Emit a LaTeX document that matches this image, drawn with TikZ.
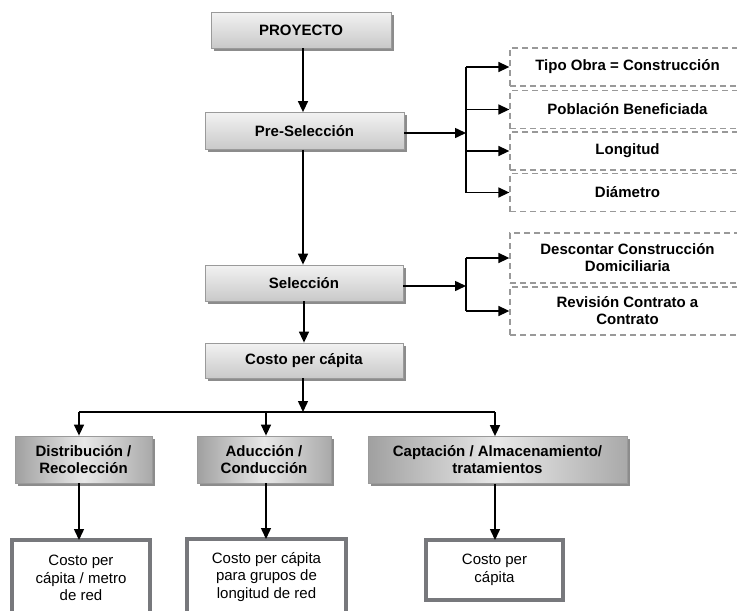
\documentclass[tikz,border=0pt]{standalone}
\usepackage{fontspec}
\setmainfont{Liberation Sans}
\usetikzlibrary{arrows.meta,shadows}
\definecolor{bordergray}{HTML}{9A9A9A}
\definecolor{shadowgray}{HTML}{8C8C8C}
\definecolor{topA}{HTML}{F2F2F2}
\definecolor{topB}{HTML}{C9C9C9}
\definecolor{midEdge}{HTML}{A0A0A0}
\definecolor{midCenter}{HTML}{E8E8E8}
\definecolor{dashgray}{HTML}{999999}
\definecolor{thickgray}{HTML}{77787C}
\tikzset{
  arr/.style={line width=1.5pt, -{Triangle[length=11pt,width=10pt]}},
  ln/.style={line width=1.5pt},
  hdr/.style={draw=bordergray, line width=0.8pt, top color=topA, bottom color=topB,
    font=\bfseries\fontsize{15}{17}\selectfont, align=center, inner sep=0pt,
    drop shadow={shadow xshift=2.5pt, shadow yshift=-2.5pt, opacity=1, fill=shadowgray}},
  midbox/.style={draw=bordergray, line width=0.8pt, left color=midEdge, right color=midEdge!90!white, middle color=midCenter,
    font=\bfseries\fontsize{15}{17}\selectfont, align=center, inner sep=0pt,
    drop shadow={shadow xshift=2.5pt, shadow yshift=-2.5pt, opacity=1, fill=shadowgray}},
  dbox/.style={draw=dashgray, line width=1.3pt, dash pattern=on 6pt off 4pt,
    font=\bfseries\fontsize{15}{17}\selectfont, align=center, inner sep=0pt, minimum width=235pt},
  leaf/.style={draw=thickgray, line width=4pt, fill=white,
    font=\fontsize{15}{17.5}\selectfont, align=center, inner sep=0pt}
}
\begin{document}
\begin{tikzpicture}[x=1pt,y=-1pt]
\useasboundingbox (0,0) rectangle (737,611);
\clip (0,0) rectangle (737,611);

% main column
\node[hdr, minimum width=180pt, minimum height=36pt] (proy) at (301,30) {PROYECTO};
\node[hdr, minimum width=199pt, minimum height=37pt] (presel) at (304.5,131) {Pre-Selección};
\node[hdr, minimum width=198pt, minimum height=36pt] (sel) at (304,283) {Selección};
\node[hdr, minimum width=198pt, minimum height=35pt] (costo) at (304,360.5) {Costo per cápita};

% level 2
\node[midbox, minimum width=137pt, minimum height=47pt] (dist) at (83.5,459.5) {Distribución /\\Recolección};
\node[midbox, minimum width=134pt, minimum height=47pt] (adu) at (264,459.5) {Aducción /\\Conducción};
\node[midbox, minimum width=259pt, minimum height=47pt] (capt) at (497.5,460) {Captación / Almacenamiento/\\tratamientos};

% leaves
\node[leaf, minimum width=138pt, minimum height=76pt] (l1) at (81,578) {Costo per\\cápita / metro\\de red};
\node[leaf, minimum width=159pt, minimum height=76pt] (l2) at (266.5,577) {Costo per cápita\\para grupos de\\longitud de red};
\node[leaf, minimum width=137pt, minimum height=60pt] (l3) at (494.5,570) {Costo per\\cápita};

% criteria boxes
\node[dbox, minimum height=38pt] (t1) at (627.5,67) {Tipo Obra = Construcción};
\node[dbox, minimum height=38pt] (t2) at (627.5,109.5) {Población Beneficiada};
\node[dbox, minimum height=38pt] (t3) at (627.5,151) {Longitud};
\node[dbox, minimum height=38pt] (t4) at (627.5,192.5) {Diámetro};
\node[dbox, minimum height=50pt] (s1) at (627.5,258) {Descontar Construcción\\Domiciliaria};
\node[dbox, minimum height=48pt] (s2) at (627.5,311) {Revisión Contrato a\\Contrato};

% main arrows
\draw[arr] (proy.south -| 303,0) -- (presel.north -| 303,0);
\draw[arr] (presel.south -| 303,0) -- (sel.north -| 303,0);
\draw[arr] (sel.south -| 304,0) -- (costo.north -| 304,0);

% pre-selection bus
\coordinate (pb) at (466,133);
\coordinate (pt) at (466,67);
\coordinate (pbt) at (466,192.5);
\draw[arr] (presel.east |- pb) -- (pb);
\draw[ln] (pt) -- (pbt);
\draw[arr] (pt) -- (t1.west);
\draw[arr] (t2.west -| pb) -- (t2.west);
\draw[arr] (t3.west -| pb) -- (t3.west);
\draw[arr] (pbt) -- (t4.west);

% selection bus
\coordinate (sb) at (466,286);
\coordinate (st) at (466,258);
\coordinate (sbt) at (466,311);
\draw[arr] (sel.east |- sb) -- (sb);
\draw[ln] (st) -- (sbt);
\draw[arr] (st) -- (s1.west);
\draw[arr] (sbt) -- (s2.west);

% cost bus
\coordinate (cj) at (303,412);
\coordinate (c1) at (79,412);
\coordinate (c2) at (266,412);
\coordinate (c3) at (495,412);
\draw[arr] (costo.south -| cj) -- (cj);
\draw[ln] (c1) -- (c3);
\draw[arr] (c1) -- (dist.north -| c1);
\draw[arr] (c2) -- (adu.north -| c2);
\draw[arr] (c3) -- (capt.north -| c3);

% to leaves
\draw[arr] (dist.south -| c1) -- ([yshift=-2pt]l1.north -| c1);
\draw[arr] (adu.south -| c2) -- ([yshift=-2pt]l2.north -| c2);
\draw[arr] (capt.south -| c3) -- ([yshift=-2pt]l3.north -| c3);
\end{tikzpicture}
\end{document}
